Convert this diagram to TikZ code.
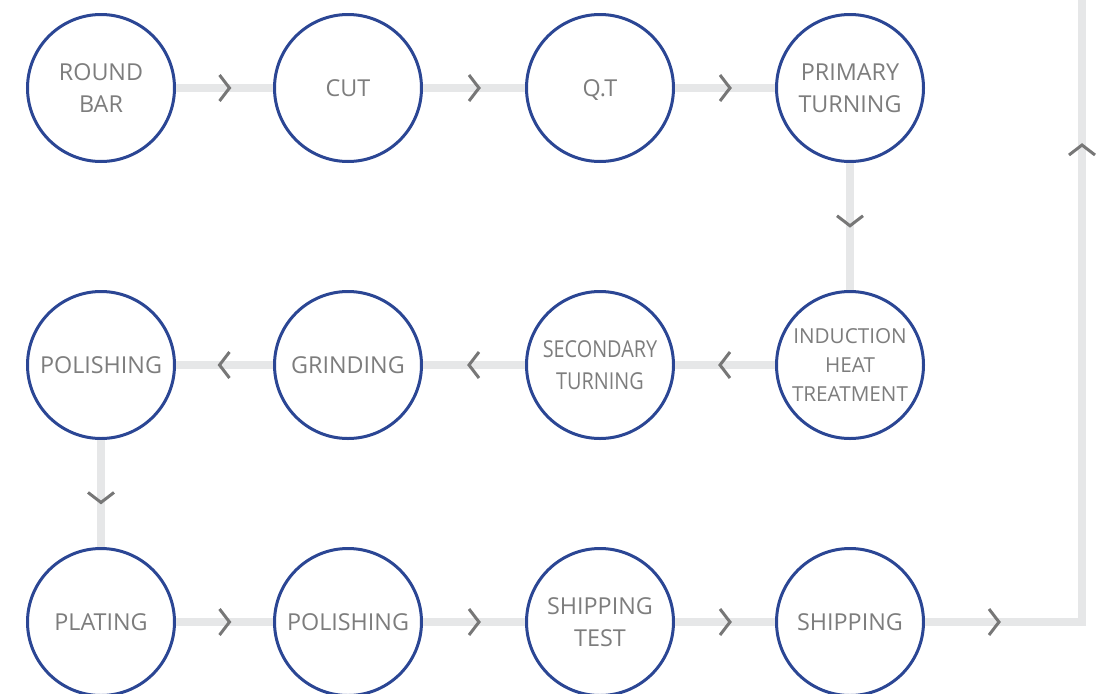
\documentclass[tikz,border=0pt]{standalone}
\usepackage{fontspec}
\setmainfont{Open Sans}
\newfontfamily\narrowfont{Open Sans}[FakeStretch=0.85]
\usetikzlibrary{decorations.markings}
\definecolor{ringblue}{RGB}{43,70,148}
\definecolor{linegray}{RGB}{230,231,232}
\definecolor{chevgray}{RGB}{119,119,119}
\definecolor{textgray}{RGB}{125,125,125}

\begin{document}
\begin{tikzpicture}[x=0.75pt,y=-0.75pt,
stage/.style={circle, draw=ringblue, line width=2.25pt, fill=white, minimum size=110.25pt, inner sep=0pt, text=textgray, align=center, text depth=-4.5pt, font=\fontsize{17.5}{24}\selectfont},
chev/.style={draw=chevgray, line width=2.25pt},
flow/.style={draw=linegray, line width=6pt, postaction={decorate}, decoration={markings, mark=at position #1 with {\draw[chev] (-5,-13) -- (5,0) -- (-5,13);}}},
flow/.default=0.5]
\clip (0,0) rectangle (1103,693);
% first row
\node [stage] (bar) at (101,88) {ROUND\\BAR};
\node [stage] (cut) at (348,88) {CUT};
\node [stage] (qt) at (600,88) {Q.T};
\node [stage] (primary) at (850,88) {PRIMARY\\TURNING};
% second row, right to left
\node [stage, font=\fontsize{15.5}{21.75}\selectfont] (induction) at (850,365) {INDUCTION\\HEAT\\TREATMENT};
\node [stage, font=\narrowfont\fontsize{17.5}{24}\selectfont] (secondary) at (600,365) {SECONDARY\\TURNING};
\node [stage] (grinding) at (348,365) {GRINDING};
\node [stage] (polish1) at (101,365) {POLISHING};
% third row
\node [stage] (plating) at (101,622) {PLATING};
\node [stage] (polish2) at (348,622) {POLISHING};
\node [stage] (shiptest) at (600,622) {SHIPPING\\TEST};
\node [stage] (shipping) at (850,622) {SHIPPING};
\coordinate (bend) at (1082,622);
\coordinate (top) at (1082,-10);

\draw [flow] (bar) -- (cut);
\draw [flow] (cut) -- (qt);
\draw [flow] (qt) -- (primary);
\draw [flow=0.455] (primary) -- (induction);
\draw [flow] (induction) -- (secondary);
\draw [flow] (secondary) -- (grinding);
\draw [flow] (grinding) -- (polish1);
\draw [flow=0.537] (polish1) -- (plating);
\draw [flow] (plating) -- (polish2);
\draw [flow] (polish2) -- (shiptest);
\draw [flow] (shiptest) -- (shipping);
\draw [draw=linegray, line width=6pt, postaction={decorate},
  decoration={markings,
    mark=at position 51.75pt with {\draw[chev] (-5,-13) -- (5,0) -- (-5,13);},
    mark=at position 471.75pt with {\draw[chev] (-5,-13) -- (5,0) -- (-5,13);}}]
  (shipping) -- (bend) -- (top);
\end{tikzpicture}
\end{document}
